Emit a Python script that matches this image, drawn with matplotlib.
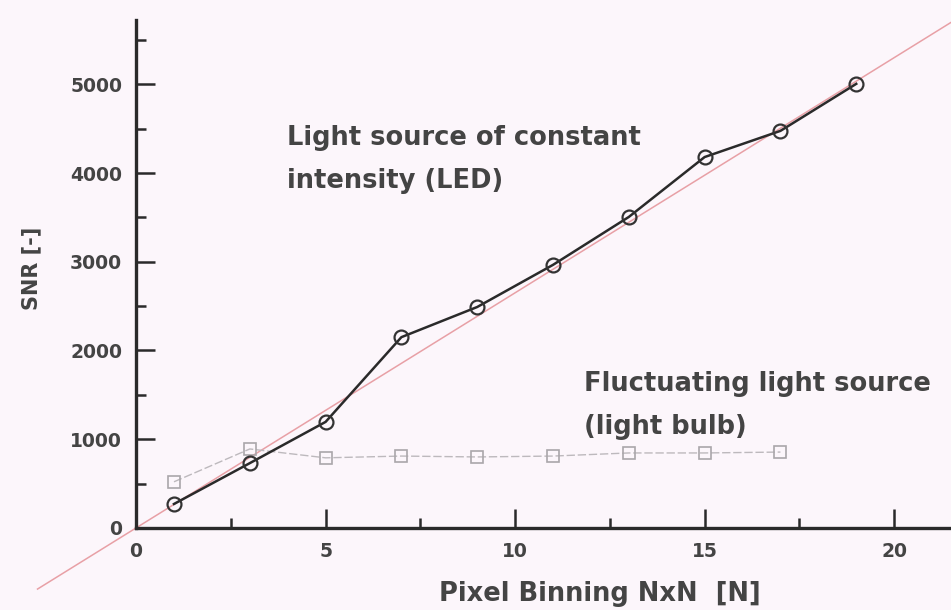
import numpy as np
import matplotlib.pyplot as plt

# LED (constant light source) measurements
n_led = [1, 3, 5, 7, 9, 11, 13, 15, 17, 19]
snr_led = [270, 730, 1195, 2150, 2490, 2965, 3505, 4180, 4475, 5005]

# light bulb (fluctuating source)
n_bulb = [1, 3, 5, 7, 9, 11, 13, 15, 17]
snr_bulb = [520, 890, 790, 810, 800, 810, 845, 845, 855]

# linear fit through LED data
fit_x = [-2.6, 21.6]
fit_slope = 265.0

x_ticks = [0, 5, 10, 15, 20]
y_ticks = [0, 1000, 2000, 3000, 4000, 5000]

bg = "#fcf6fb"
txt = "#444444"
W, H = 951, 610

plt.rcParams['font.family'] = ['DejaVu Sans']

fig = plt.figure(figsize=(W / 100, H / 100), dpi=100, facecolor=bg)
ax = fig.add_axes([0, 0, 1, 1], facecolor=bg)

ax.set_xlim(-3.59, 21.5)
ax.set_ylim(-925, 5950)

ax.plot(fit_x, [fit_slope * v for v in fit_x], color="#e8a0a6", lw=1.1, zorder=1)

ax.plot(n_bulb, snr_bulb, color="#bdb9bd", lw=1.0, ls=(0, (6, 2)),
        marker="s", ms=8.5, mfc="none", mec="#aaa6aa", mew=1.2, zorder=2)
ax.plot(n_led, snr_led, color="#2a2a2a", lw=1.8,
        marker="o", ms=10, mfc="none", mec="#333333", mew=1.6, zorder=3)

for s in ["top", "right"]:
    ax.spines[s].set_visible(False)
ax.spines["left"].set_position(("data", 0))
ax.spines["bottom"].set_position(("data", 0))
ax.spines["left"].set_bounds(0, 5720)
ax.spines["bottom"].set_bounds(0, 21.5)
for s in ["left", "bottom"]:
    ax.spines[s].set_linewidth(2.4)
    ax.spines[s].set_color("#2a2a2a")

ax.set_xticks(x_ticks)
ax.set_yticks(y_ticks)
ax.set_xticks([2.5, 7.5, 12.5, 17.5], minor=True)
ax.set_yticks([500, 1500, 2500, 3500, 4500, 5500], minor=True)
ax.tick_params(which="both", direction="in", color="#2a2a2a", width=1.8,
               labelcolor=txt)
ax.tick_params(which="major", length=14, pad=10)
ax.tick_params(which="minor", length=7)
for lab in ax.get_xticklabels() + ax.get_yticklabels():
    lab.set_fontsize(13.5)
    lab.set_fontweight("bold")

fig.text(287 / W, 1 - 125 / H, "Light source of constant\nintensity (LED)",
         fontsize=18.5, fontweight="bold", color=txt, va="top", ha="left",
         linespacing=1.85)
fig.text(584 / W, 1 - 371 / H, "Fluctuating light source\n(light bulb)",
         fontsize=18.5, fontweight="bold", color=txt, va="top", ha="left",
         linespacing=1.85)

fig.text(600 / W, 1 - 594 / H, "Pixel Binning NxN  [N]", fontsize=18.5,
         fontweight="bold", color=txt, ha="center", va="center")
fig.text(31 / W, 1 - 268 / H, "SNR [-]", fontsize=15, fontweight="bold",
         color=txt, ha="center", va="center", rotation=90)

fig.savefig("out.png", dpi=100, facecolor=bg)
